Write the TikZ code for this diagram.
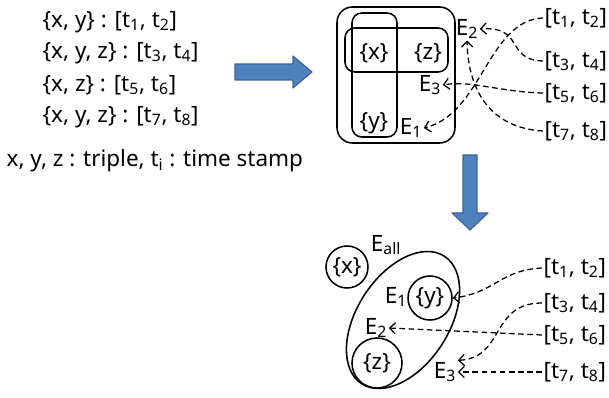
\documentclass[tikz,border=0pt]{standalone}
\usepackage{fontspec}
\setmainfont{Noto Sans}
\usepackage{tikz}
\usetikzlibrary{arrows.meta}
\definecolor{arrowblue}{HTML}{4F81BD}
\definecolor{arrowedge}{HTML}{3A649A}
\tikzset{txt/.style={inner sep=1pt,font=\fontsize{16}{19}\selectfont},
  lbl/.style={txt,anchor=west},
  setline/.style={line width=1.1pt},
  setc/.style={circle,draw,setline,inner sep=0pt,txt},
  flow/.style={line width=0.9pt,dash pattern=on 4pt off 2.5pt,-{Straight Barb[length=4pt,width=8pt]}},
  bigarrow/.style={fill=arrowblue,draw=arrowedge,line width=0.8pt,line join=round}}
\newcommand{\tpair}[2]{[t\textsubscript{#1}, t\textsubscript{#2}]}

\begin{document}
\begin{tikzpicture}[x=0.025cm,y=-0.025cm]
\useasboundingbox (0,0) rectangle (609,398);
\node[lbl] (r1) at (41,22) {\{x, y\} : \tpair12};
\node[lbl] (r2) at (41,53) {\{x, y, z\} : \tpair34};
\node[lbl] (r3) at (41,85) {\{x, z\} : \tpair56};
\node[lbl] (r4) at (41,117) {\{x, y, z\} : \tpair78};
\node[lbl] (legend) at (5,161) {x, y, z : triple, t\textsubscript{i} : time stamp};
\draw[bigarrow] (235,64) -- (293,64) -- (293,56) -- (312,72) -- (293,88) -- (293,80) -- (235,80) -- cycle;
\draw[bigarrow] (463,155) -- (477,155) -- (477,213) -- (488,213) -- (470,230) -- (452,213) -- (463,213) -- cycle;

\draw[setline,rounded corners=11pt] (337,7) rectangle (455,143);
\draw[setline,rounded corners=7pt] (352,13) rectangle (397,137);
\draw[setline,rounded corners=7pt] (345,28) rectangle (448,72);
\node[txt] (sx) at (374,53) {\{x\}}; \node[txt] (sz) at (428,53) {\{z\}}; \node[txt] (sy) at (374,123) {\{y\}};
\node[txt] (te1) at (411,128) {E\textsubscript{1}}; \node[txt] (te3) at (430,85) {E\textsubscript{3}}; \node[txt] (te2) at (467,29) {E\textsubscript{2}};
\node[lbl] (ts12) at (543,18) {\tpair12}; \node[lbl] (ts34) at (543,61) {\tpair34};
\node[lbl] (ts56) at (543,93) {\tpair56}; \node[lbl] (ts78) at (543,131) {\tpair78};
\draw[flow] (ts12.west) .. controls (488,20) and (482,114) .. (te1.east);
\draw[flow] (ts34.west) .. controls (505,60) and (525,26) .. (te2.east);
\draw[flow] (ts56.west) .. controls (500,92) and (470,80) .. (te3.east);
\draw[flow] (ts78.west) .. controls (490,128) and (468,90) .. (te2.south);

\node[setc,minimum size=1.05cm] (cx) at (347,267) {\{x\}};
\draw[setline,rotate around={57:(403,320)}] (403,320) ellipse (76 and 46);
\node[setc,minimum size=1.1cm] (cy) at (430,298) {\{y\}};
\node[setc,minimum size=1.25cm] (cz) at (377,363) {\{z\}};
\node[txt] (beall) at (386,245) {E\textsubscript{all}};
\node[txt] (be1) at (396,297) {E\textsubscript{1}}; \node[txt] (be2) at (376,328) {E\textsubscript{2}}; \node[txt] (be3) at (445,372) {E\textsubscript{3}};
\node[lbl] (bs12) at (542,268) {\tpair12}; \node[lbl] (bs34) at (542,303) {\tpair34};
\node[lbl] (bs56) at (542,335) {\tpair56}; \node[lbl] (bs78) at (542,372) {\tpair78};
\draw[flow] (bs12.west) .. controls (500,270) and (495,293) .. (cy.east);
\draw[flow] (bs34.west) .. controls (490,303) and (505,358) .. (be3.north east);
\draw[flow] (bs56.west) -- (be2.east);
\draw[flow] (bs78.west) -- (be3.east);
\end{tikzpicture}
\end{document}
